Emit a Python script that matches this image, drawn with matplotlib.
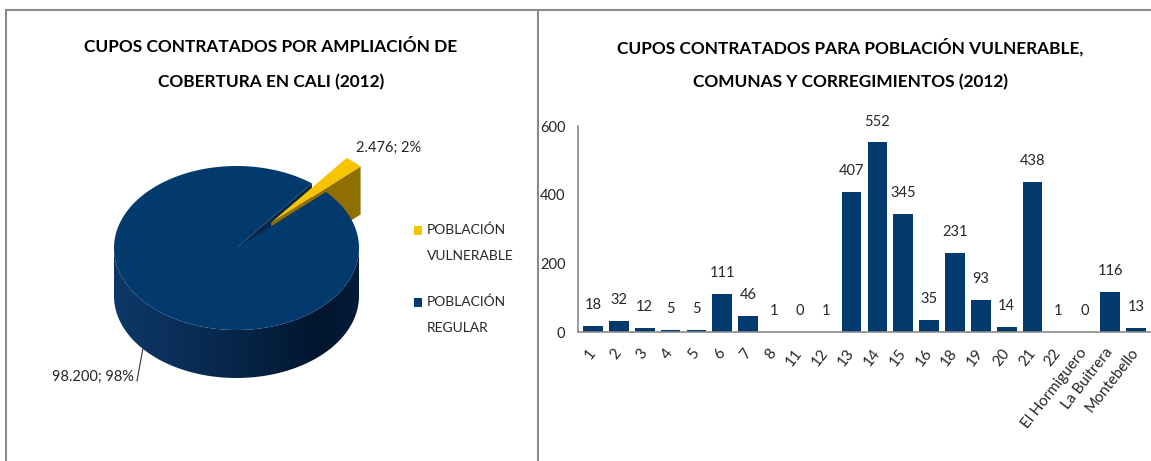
import matplotlib.pyplot as plt
import numpy as np
from matplotlib.patches import Polygon, Rectangle

plt.rcParams['font.family'] = ['Lato', 'DejaVu Sans']

# datos del gráfico de torta
pie_labels = ['POBLACIÓN\nVULNERABLE', 'POBLACIÓN\nREGULAR']
pie_values = [2476, 98200]
pie_texts = ['2.476; 2%', '98.200; 98%']

# datos del gráfico de barras
comunas = ['1', '2', '3', '4', '5', '6', '7', '8', '11', '12', '13', '14', '15', '16',
           '18', '19', '20', '21', '22', 'El Hormiguero', 'La Buitrera', 'Montebello']
cupos = [18, 32, 12, 5, 5, 111, 46, 1, 0, 1, 407, 552, 345, 35,
         231, 93, 14, 438, 1, 0, 116, 13]

AZUL = '#023a6e'
AMARILLO = '#f6c400'
GRIS = '#8a8a8a'
TXT = '#262626'

fig = plt.figure(figsize=(11.51, 4.61), dpi=100)

# eje de fondo en coordenadas de pixel
bg = fig.add_axes([0, 0, 1, 1])
bg.set_xlim(0, 1151)
bg.set_ylim(461, 0)
bg.axis('off')

# marco
bg.plot([6, 1151], [10.5, 10.5], color=GRIS, lw=1.5)
bg.plot([6.5, 6.5], [10, 461], color=GRIS, lw=1.5)
bg.plot([538, 538], [10, 461], color=GRIS, lw=1.5)

# titulos
tkw = dict(ha='center', va='center', fontsize=12.4, weight='bold', color='black')
bg.text(271, 47, 'CUPOS CONTRATADOS POR AMPLIACIÓN DE', **tkw)
bg.text(271, 82, 'COBERTURA EN CALI (2012)', **tkw)
bg.text(850, 47, 'CUPOS CONTRATADOS PARA POBLACIÓN VULNERABLE,', **tkw)
bg.text(851, 82, 'COMUNAS Y CORREGIMIENTOS (2012)', **tkw)

# ---- torta 3D dibujada a mano ----
CX, CY, RX, RY, D = 236.5, 248, 122.5, 82, 48


def rim(theta, cx, cy, dz=0):
    t = np.radians(theta)
    return np.column_stack([cx + RX * np.cos(t), cy - RY * np.sin(t) + dz])


total = sum(pie_values)
a0 = 52.0
a1 = a0 - 360 * pie_values[0] / total
mid = np.radians((a0 + a1) / 2)
e = 0.42
yx, yy = CX + RX * e * np.cos(mid), CY - RY * e * np.sin(mid)

# pared interior de la porcion azul
wall_b = np.vstack([[CX, CY], rim(a0, CX, CY), rim(a0, CX, CY, D), [CX, CY + D]])
bg.add_patch(Polygon(wall_b, closed=True, fc='#0a2646', ec='none'))

# porcion amarilla separada
arc = rim(np.linspace(a0, a1, 30), yx, yy)
wall = np.vstack([[yx, yy], rim(a1, yx, yy), rim(a1, yx, yy, D), [yx, yy + D]])
bg.add_patch(Polygon(wall, closed=True, fc='#8f6f00', ec='none'))
bg.add_patch(Polygon(np.vstack([[yx, yy], arc]), closed=True, fc=AMARILLO, ec='none'))

# lado frontal con degradado (imagen recortada al contorno)
ts = np.linspace(180, 360, 200)
side = np.vstack([rim(ts, CX, CY), rim(ts[::-1], CX, CY, D)])
side_patch = Polygon(side, closed=True, fc='none', ec='none')
bg.add_patch(side_patch)
stops = np.array([[0x0e, 0x38, 0x68], [0x07, 0x27, 0x4c], [0x02, 0x15, 0x2e], [0x04, 0x1c, 0x3a]]) / 255
pos = np.linspace(0, 1, 256)
grad = np.stack([np.interp(pos, [0, 0.45, 0.85, 1], stops[:, c]) for c in range(3)], axis=-1)
im = bg.imshow(grad[np.newaxis, :, :], extent=[CX - RX, CX + RX, CY + RY + D, CY - 1],
               aspect='auto', interpolation='bilinear', zorder=1)
im.set_clip_path(side_patch)

# cara superior azul
arc_b = rim(np.linspace(a1, a0 - 360, 400), CX, CY)
bg.add_patch(Polygon(np.vstack([[CX, CY], arc_b]), closed=True, fc=AZUL, ec='none', zorder=2))
bg.set_xlim(0, 1151)
bg.set_ylim(461, 0)

# etiquetas de datos
bg.text(356, 148, pie_texts[0], ha='left', va='center', fontsize=10.5, color=TXT)
bg.text(134, 377, pie_texts[1], ha='right', va='center', fontsize=10.5, color=TXT)
bg.plot([137, 143], [381, 348], color='#333333', lw=0.8, zorder=3)

# leyenda
for k, (lab, col) in enumerate(zip(pie_labels, [AMARILLO, AZUL])):
    y0 = 230 + k * 72
    bg.add_patch(Rectangle((414, y0 - 4.5), 8, 9, fc=col, ec='none'))
    for j, line in enumerate(lab.split('\n')):
        bg.text(427, y0 + j * 26, line, ha='left', va='center', fontsize=10, color=TXT)

# ---- grafico de barras ----
ax = fig.add_axes([578 / 1151, (461 - 332) / 461, (1150 - 578) / 1151, (332 - 126) / 461])
x = np.arange(len(comunas))
ax.bar(x, cupos, width=0.76, color=AZUL)
for i, v in enumerate(cupos):
    ax.annotate(str(v), (i, v), xytext=(0, 15), textcoords='offset points',
                ha='center', va='center', fontsize=10.5, color=TXT)

ax.set_xlim(-0.58, 21.54)
ax.set_ylim(0, 600)
ax.set_yticks([0, 200, 400, 600])
ax.set_xticks(x)
ax.set_xticklabels(comunas, rotation=52, ha='right', va='center', rotation_mode='anchor',
                   fontsize=11, color=TXT)
ax.tick_params(axis='both', length=0)
ax.tick_params(axis='y', pad=9, labelsize=10.5, labelcolor=TXT)
ax.tick_params(axis='x', pad=13)
for s in ['top', 'right']:
    ax.spines[s].set_visible(False)
for s in ['left', 'bottom']:
    ax.spines[s].set_color(GRIS)
    ax.spines[s].set_linewidth(1.2)
ax.patch.set_alpha(0)

fig.savefig('out.png', dpi=100)
